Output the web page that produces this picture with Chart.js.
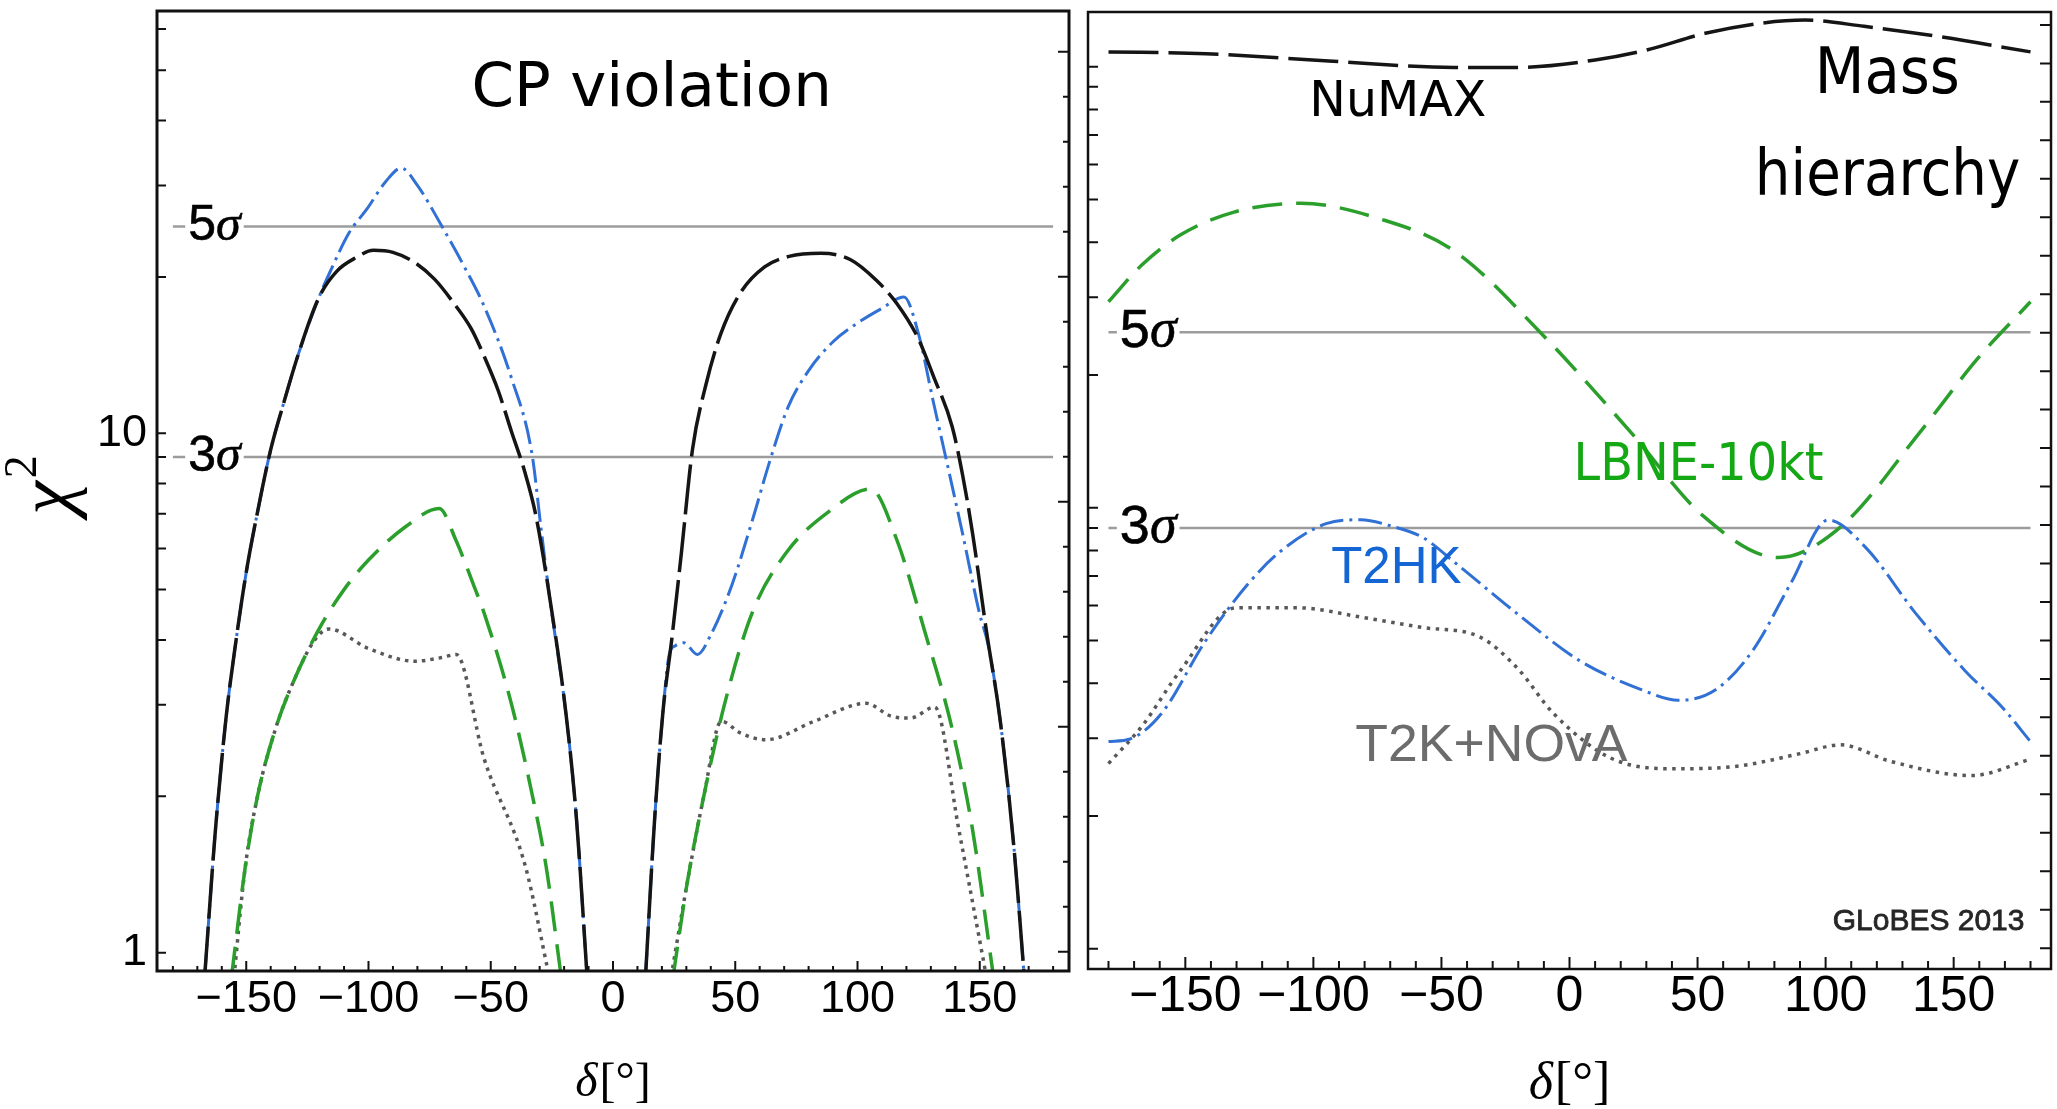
<!DOCTYPE html>
<html>
<head>
<meta charset="utf-8">
<title>CP violation and mass hierarchy sensitivity</title>
<script src="https://cdn.jsdelivr.net/npm/chart.js@4.4.1/dist/chart.umd.min.js"></script>
<style>
  html, body { margin: 0; padding: 0; background: #fff; }
  canvas { position: absolute; top: 0; }
  #cpChart { left: 0; }
  #mhChart { left: 1075px; }
</style>
</head>
<body>
<canvas id="cpChart" width="1075" height="1109"></canvas>
<canvas id="mhChart" width="982" height="1109"></canvas>
<script>
// shared axis labels and sigma levels
const xTickValues = [-150, -100, -50, 0, 50, 100, 150];
const sigmaChi2 = [9, 25];            // 3 sigma and 5 sigma
const sigmaNames = ['3', '5'];
const sigmaRange = [-180, 180];

// ---- CP violation panel (left), chi^2 vs delta, null = gap between the two lobes
const cpNumaxDelta = [-167, -162.7, -158.2, -154.8, -150, -145, -140, -135, -128.9, -120.4, -113, -105, -98, -90, -81, -73, -65.5, -58, -52.8, -47, -41.6, -36, -31.7, -26.1, -19.1, -14.9, -10.6,
  0, 13.3, 17, 20.4, 24, 28, 32.5, 38, 44, 52, 62, 72, 85, 97, 107.7, 116, 124.6, 131, 138.7, 143, 147.1, 152.7, 158.4, 164, 168.2];
const cpNumaxChi2 = [0.9, 1.7, 2.85, 3.8, 5.4, 7.2, 9.3, 11.3, 14.1, 18.2, 20.5, 21.8, 22.5, 22.3, 21.3, 19.8, 17.9, 15.9, 14.1, 12.1, 10.1, 8.4, 7.0, 4.9, 2.85, 1.8, 0.9,
  null, 0.9, 1.8, 2.9, 4.0, 5.9, 9.3, 12.4, 15.5, 18.6, 20.9, 21.9, 22.2, 21.6, 19.7, 17.8, 15.3, 12.9, 10.3, 8.3, 6.4, 4.17, 2.79, 1.59, 0.9];

const cpT2hkDelta = [-167, -162.7, -158.2, -154.8, -150, -145, -140, -135, -128.9, -120.4, -115, -108, -100.7, -93, -86.6, -80, -69.7, -61, -52.8, -41.6, -33.1, -29.5, -26.1, -19.1, -14.9, -10.6,
  0, 13.3, 17, 20.4, 23, 25.5, 29, 34.5, 40.1, 48.6, 57, 64, 71.5, 80, 90, 100, 110, 119, 125, 131, 137, 143, 149.9, 153.5, 158.4, 164, 168.2];
const cpT2hkChi2 = [0.9, 1.7, 2.85, 3.8, 5.4, 7.2, 9.3, 11.3, 14.1, 18.2, 20.8, 24.3, 27.0, 30.5, 32.4, 30.0, 24.9, 21.0, 17.6, 12.8, 9.1, 6.6, 4.9, 2.85, 1.8, 0.9,
  null, 0.9, 1.8, 2.9, 3.75, 3.9, 3.95, 3.75, 4.1, 5.1, 6.8, 8.8, 11.2, 13.2, 15.0, 16.3, 17.4, 18.3, 15.5, 11.5, 8.6, 6.4, 4.5, 3.9, 2.79, 1.59, 0.9];

const cpLbneDelta = [-156, -150.5, -145.4, -138, -131, -120.2, -110, -100, -85, -71.1, -64.1, -57, -52.8, -41.6, -33.1, -27.4, -21.2,
  0, 24.6, 30.2, 37.3, 45.7, 57, 71, 88, 105.4, 116.1, 127.4, 138.7, 147.1, 155.6];
const cpLbneChi2 = [0.9, 1.45, 2.0, 2.7, 3.3, 4.2, 5.0, 5.7, 6.6, 7.16, 6.2, 5.1, 4.52, 3.02, 2.02, 1.47, 0.9,
  null, 0.9, 1.35, 2.02, 3.02, 4.52, 5.9, 7.05, 7.81, 6.23, 4.17, 2.7, 1.72, 0.9];

const cpT2kNovaDelta = [-155, -150.5, -145.4, -138, -131, -122, -116.2, -100, -81, -70, -64.1, -52.8, -35.9, -26.1,
  0, 23.8, 30.2, 37.3, 44.3, 52, 62.6, 82.3, 103.5, 114, 121.7, 131.6, 141.5, 149.9, 152.7];
const cpT2kNovaChi2 = [0.9, 1.45, 2.0, 2.7, 3.3, 4.0, 4.2, 3.85, 3.64, 3.7, 3.75, 2.37, 1.47, 0.9,
  null, 0.9, 1.35, 2.02, 2.79, 2.65, 2.57, 2.79, 3.02, 2.85, 2.83, 2.97, 1.72, 1.06, 0.9];

// ---- mass hierarchy panel (right)
const mhNumaxDelta = [-180, -142, -94, -45, -21, 10, 30, 53, 75, 92, 115, 145, 180];
const mhNumaxChi2 = [108, 107, 103, 99.6, 99.6, 103.5, 109, 119, 125.5, 127.5, 123.4, 116.8, 108];

const mhLbneDelta = [-180, -167, -152, -131, -105, -74.2, -45, -10.9, 23.2, 52.3, 81.6, 105.9, 137.5, 159.4, 180];
const mhLbneChi2 = [29.3, 35.5, 41.5, 46.8, 49.0, 45.2, 38.2, 24.8, 15.0, 9.57, 7.71, 9.05, 15.0, 21.8, 29.3];

const mhT2hkDelta = [-180, -171.6, -159.4, -142.3, -125.3, -113.1, -95, -81.5, -70, -57.1, -45, -20.7, 3.7, 28, 42.6, 57.2, 71.8, 86.4, 101, 115.6, 135.1, 154.6, 169.1, 180];
const mhT2hkChi2 = [2.95, 2.99, 3.41, 4.97, 6.74, 7.94, 9.2, 9.39, 9.1, 8.55, 7.53, 5.77, 4.51, 3.87, 3.66, 3.87, 4.77, 6.74, 9.38, 8.13, 5.77, 4.26, 3.52, 2.95];

const mhT2kNovaDelta = [-180, -166.7, -152.1, -130.2, -105.8, -81.5, -57.1, -35.2, -20.7, -6.1, 15.9, 40.2, 64.5, 88.9, 105.9, 125.4, 157, 180];
const mhT2kNovaChi2 = [2.63, 3.21, 4.26, 5.93, 5.93, 5.65, 5.35, 5.1, 4.35, 3.41, 2.71, 2.56, 2.59, 2.76, 2.9, 2.66, 2.47, 2.69];

// log tick marks on the left frame of each panel
const cpLogTicks = [1, 2, 3, 4, 5, 6, 7, 8, 9, 10, 20, 30, 40, 50, 60];
const mhLogTicks = [1, 2, 3, 4, 5, 6, 7, 8, 9, 10, 20, 30, 40, 50, 60, 70, 80, 90, 100];

const BLACK = '#151515', GREEN = '#2b9f2b', BLUE = '#3170d4', GREY = '#585858', SIGMA = '#9c9c9c';
const SANS = 'Liberation Sans, Arial, sans-serif';
const SERIF = 'Liberation Serif, Times New Roman, serif';

function curve(xs, ys, color, dash, width) {
    return {
        data: xs.map((x, i) => ({ x: x, y: ys[i] })),
        borderColor: color,
        borderWidth: width,
        borderDash: dash,
        pointRadius: 0,
        fill: false,
        spanGaps: false,
        cubicInterpolationMode: 'monotone',
        order: 1
    };
}

function sigmaLine(level) {
    return {
        data: sigmaRange.map(x => ({ x: x, y: level })),
        borderColor: SIGMA,
        borderWidth: 2.5,
        pointRadius: 0,
        order: 5
    };
}

function minusLabel(v) {
    return v < 0 ? '\u2212' + Math.abs(v) : String(v);
}

// frame with inward ticks (bottom every 10 deg, left on the log scale, right on a plain linear scale)
function makeFrame(o) {
    return {
        id: 'frame',
        afterDraw(chart) {
            const { ctx, chartArea: a, scales } = chart;
            ctx.save();
            ctx.strokeStyle = '#111';
            ctx.lineWidth = 2;
            ctx.beginPath();
            for (let v = -180; v <= 180; v += 10) {
                const px = scales.x.getPixelForValue(v);
                const len = v % 50 === 0 ? o.bottomMajor : o.bottomMinor;
                ctx.moveTo(px, a.bottom);
                ctx.lineTo(px, a.bottom - len);
            }
            o.logTicks.forEach(v => {
                const py = scales.y.getPixelForValue(v);
                ctx.moveTo(a.left, py);
                ctx.lineTo(a.left + o.leftLen, py);
            });
            for (let k = 0; k <= o.rightCount; k++) {
                const py = scales.yr.getPixelForValue(k);
                const len = o.rightMajorEvery && k % o.rightMajorEvery === 0 ? o.rightMajor : o.rightMinor;
                ctx.moveTo(a.right, py);
                ctx.lineTo(a.right - len, py);
            }
            ctx.stroke();
            ctx.lineWidth = o.frameWidth;
            ctx.strokeRect(a.left, a.top, a.right - a.left, a.bottom - a.top);
            ctx.restore();
        }
    };
}

// text annotations placed through the scales
function makeNotes(items) {
    return {
        id: 'notes',
        afterDraw(chart) {
            const { ctx, chartArea: a, scales } = chart;
            items.forEach(it => {
                const cx = it.x !== undefined ? scales.x.getPixelForValue(it.x) : it.left;
                let cy;
                if (it.y !== undefined) cy = scales.y.getPixelForValue(it.y);
                else if (it.below !== undefined) cy = a.bottom + it.below;
                else cy = (a.top + a.bottom) / 2 + it.mid;
                ctx.save();
                ctx.translate(cx, cy);
                if (it.rotate) ctx.rotate(it.rotate);
                ctx.scale(it.sx || 1, 1);
                ctx.textAlign = 'left';
                ctx.textBaseline = it.baseline || 'alphabetic';
                let w = 0;
                const widths = it.parts.map(p => {
                    ctx.font = p.font;
                    const m = ctx.measureText(p.t).width + (p.gap || 0);
                    w += m;
                    return m;
                });
                if (it.bg) {
                    ctx.fillStyle = '#fff';
                    ctx.fillRect(-w / 2 - it.bg, -it.bgH / 2, w + 2 * it.bg, it.bgH);
                }
                let x = -w / 2;
                it.parts.forEach((p, i) => {
                    ctx.font = p.font;
                    ctx.fillStyle = p.color || it.color || '#000';
                    ctx.fillText(p.t, x, p.dy || 0);
                    if (it.stroke) {
                        ctx.strokeStyle = ctx.fillStyle;
                        ctx.lineWidth = it.stroke;
                        ctx.strokeText(p.t, x, p.dy || 0);
                    }
                    x += widths[i];
                });
                ctx.restore();
            });
        }
    };
}

function sigmaNotes(xPos, size) {
    return sigmaChi2.map((lev, i) => ({
        x: xPos, y: lev, baseline: 'middle', bg: 3, bgH: 38, stroke: 0.6,
        parts: [{ t: sigmaNames[i], font: size + 'px ' + SANS }, { t: '\u03c3', font: 'italic ' + size + 'px ' + SERIF }]
    }));
}

function panelOptions(p) {
    return {
        responsive: false,
        animation: false,
        events: [],
        layout: { padding: { top: p.top, right: p.right, left: 0, bottom: 0 } },
        plugins: { legend: { display: false }, tooltip: { enabled: false } },
        scales: {
            x: {
                type: 'linear', min: -p.xMax, max: p.xMax,
                grid: { display: false, drawTicks: false },
                border: { display: false },
                afterBuildTicks: s => { s.ticks = xTickValues.map(v => ({ value: v })); },
                afterFit: s => { s.height = p.xHeight; s.paddingLeft = 0; s.paddingRight = 0; },
                ticks: {
                    font: { family: SANS, size: p.tickSize, lineHeight: 1 },
                    color: '#000', padding: p.xPad, maxRotation: 0, autoSkip: false,
                    callback: v => minusLabel(v)
                }
            },
            y: {
                type: 'logarithmic', min: p.yMin, max: p.yMax,
                grid: { display: false, drawTicks: false },
                border: { display: false },
                afterBuildTicks: s => { s.ticks = p.yLabels.map(v => ({ value: v })); },
                afterFit: s => { s.width = p.yWidth; s.paddingTop = 0; s.paddingBottom = 0; },
                ticks: {
                    display: p.yLabels.length > 0,
                    font: { family: SANS, size: p.tickSize, lineHeight: 1 },
                    color: '#000', padding: 10,
                    callback: v => String(v)
                }
            },
            yr: {
                type: 'linear', position: 'right', min: p.rMin, max: p.rMax,
                grid: { display: false, drawTicks: false },
                border: { display: false },
                ticks: { display: false },
                afterFit: s => { s.width = 0; s.paddingTop = 0; s.paddingBottom = 0; }
            }
        }
    };
}

// ---------- left panel ----------
new Chart(document.getElementById('cpChart').getContext('2d'), {
    type: 'line',
    data: {
        datasets: [
            curve(cpNumaxDelta, cpNumaxChi2, BLACK, [50, 8], 3.5),
            curve(cpLbneDelta, cpLbneChi2, GREEN, [30, 13], 3.5),
            curve(cpT2hkDelta, cpT2hkChi2, BLUE, [24, 6, 3, 6], 3),
            curve(cpT2kNovaDelta, cpT2kNovaChi2, GREY, [3.5, 5], 3.5),
            sigmaLine(sigmaChi2[0]),
            sigmaLine(sigmaChi2[1])
        ]
    },
    options: panelOptions({
        top: 11, right: 6, xMax: 186.5, xHeight: 138, xPad: 6, tickSize: 45,
        yMin: 0.922, yMax: 65, yLabels: [1, 10], yWidth: 157,
        rMin: -0.429, rMax: 20.904
    }),
    plugins: [
        makeFrame({ bottomMajor: 10, bottomMinor: 5, logTicks: cpLogTicks, leftLen: 9,
            rightCount: 20, rightMajorEvery: 5, rightMajor: 11, rightMinor: 6, frameWidth: 3 }),
        makeNotes([
            { x: 15.8, y: 42.6, parts: [{ t: 'CP violation', font: '61px DejaVu Sans, sans-serif' }] },
            ...sigmaNotes(-163, 50),
            { left: 51, mid: -6, rotate: -Math.PI / 2, baseline: 'middle',
              parts: [{ t: '\u03c7', font: 'italic 76px ' + SERIF, gap: 3 }, { t: '2', font: '46px ' + SERIF, dy: -27 }] },
            { x: 0, below: 112, baseline: 'middle',
              parts: [{ t: '\u03b4', font: 'italic 48px ' + SERIF, gap: 2 }, { t: '[\u00b0]', font: '48px ' + SERIF }] }
        ])
    ]
});

// ---------- right panel ----------
new Chart(document.getElementById('mhChart').getContext('2d'), {
    type: 'line',
    data: {
        datasets: [
            curve(mhNumaxDelta, mhNumaxChi2, BLACK, [50, 10], 3.5),
            curve(mhLbneDelta, mhLbneChi2, GREEN, [30, 14], 3.5),
            curve(mhT2hkDelta, mhT2hkChi2, BLUE, [24, 6, 3, 6], 3),
            curve(mhT2kNovaDelta, mhT2kNovaChi2, GREY, [3.5, 5.5], 3.5),
            sigmaLine(sigmaChi2[0]),
            sigmaLine(sigmaChi2[1])
        ]
    },
    options: panelOptions({
        top: 12, right: 6, xMax: 188, xHeight: 140, xPad: 3, tickSize: 50,
        yMin: 0.9, yMax: 133, yLabels: [], yWidth: 13,
        rMin: -0.541, rMax: 24.336
    }),
    plugins: [
        makeFrame({ bottomMajor: 12, bottomMinor: 8, logTicks: mhLogTicks, leftLen: 10,
            rightCount: 24, rightMajorEvery: 0, rightMajor: 11, rightMinor: 11, frameWidth: 2.5 }),
        makeNotes([
            { x: 124.1, y: 87, sx: 0.9, parts: [{ t: 'Mass', font: '64px DejaVu Sans, sans-serif' }] },
            { x: 124.2, y: 51.1, sx: 0.88, parts: [{ t: 'hierarchy', font: '64px DejaVu Sans, sans-serif' }] },
            { x: -67, y: 77.1, parts: [{ t: 'NuMAX', font: '49px DejaVu Sans, sans-serif' }] },
            { x: 50.4, y: 11.55, sx: 0.92, color: '#14a814', parts: [{ t: 'LBNE-10kt', font: '52px DejaVu Sans, sans-serif' }] },
            { x: -67.6, y: 6.74, color: '#1366d3', parts: [{ t: 'T2HK', font: '51px ' + SANS }] },
            { x: -30.5, y: 2.665, sx: 1.05, color: '#6c6c6c', parts: [{ t: 'T2K+NOvA', font: '51px ' + SANS }] },
            { x: 140.2, y: 1.105, color: '#262626', stroke: 0.8, parts: [{ t: 'GLoBES 2013', font: '30px ' + SANS }] },
            ...sigmaNotes(-164.5, 54),
            { x: 0, below: 115, baseline: 'middle',
              parts: [{ t: '\u03b4', font: 'italic 52px ' + SERIF, gap: 2 }, { t: '[\u00b0]', font: '52px ' + SERIF }] }
        ])
    ]
});
</script>
</body>
</html>
